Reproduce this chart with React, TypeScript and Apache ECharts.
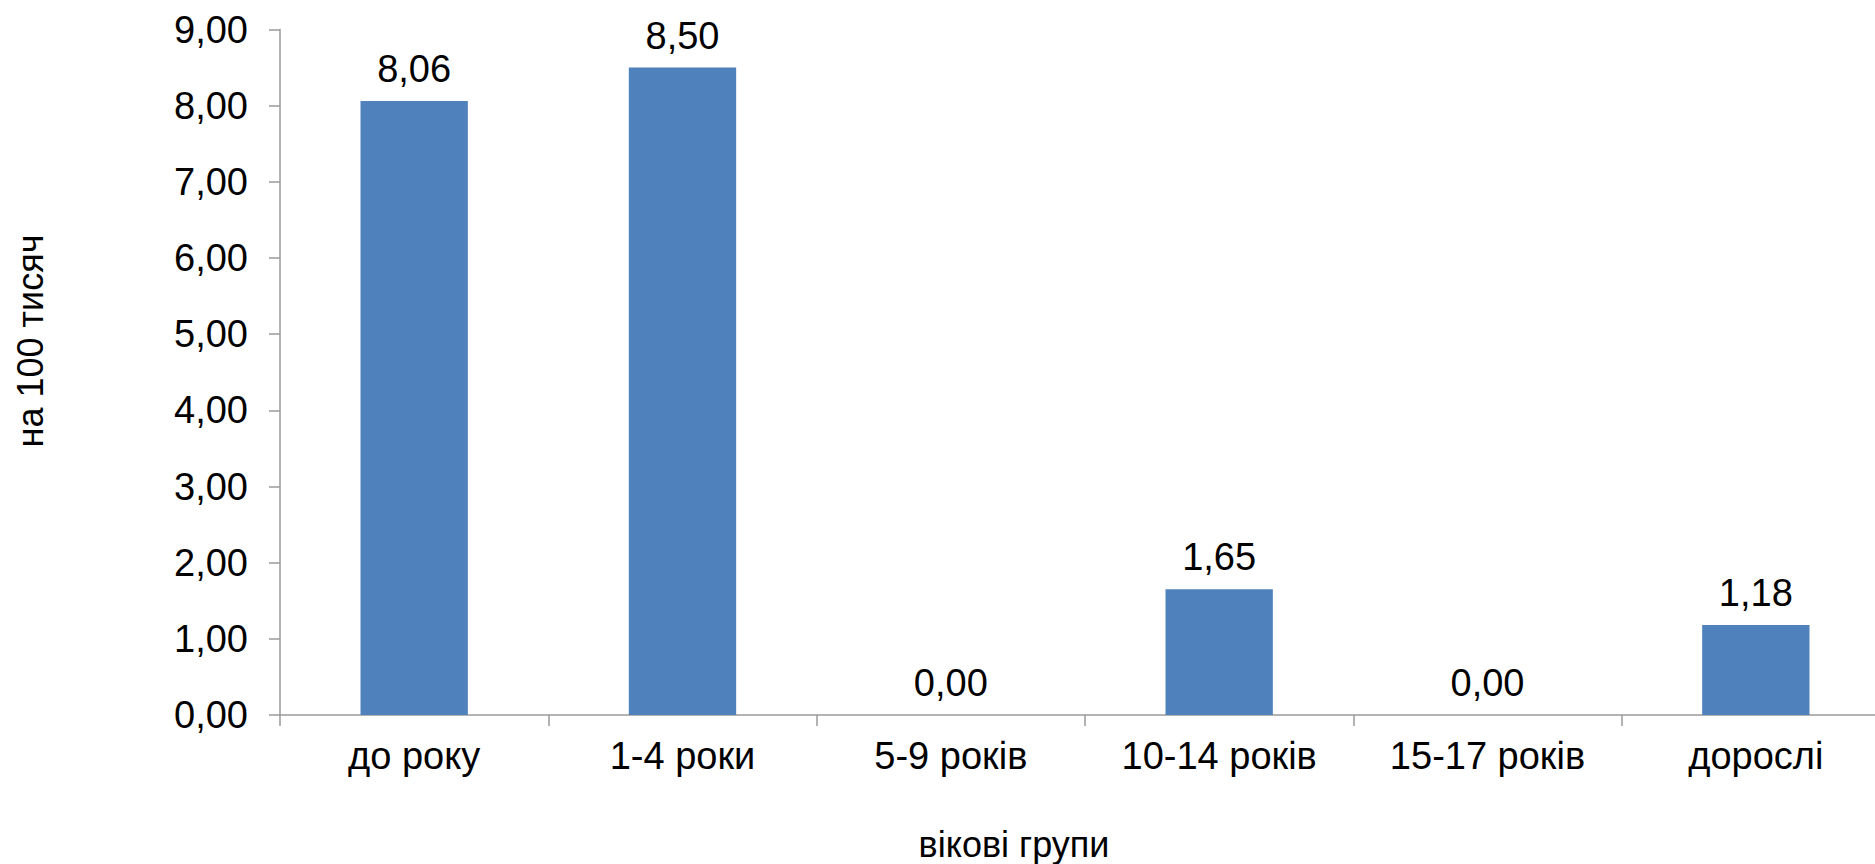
import React, { useEffect, useRef } from "react";
import * as echarts from "echarts";

const categories = ["до року", "1-4 роки", "5-9 років", "10-14 років", "15-17 років", "дорослі"];
const values = [8.06, 8.5, 0.0, 1.65, 0.0, 1.18];
const yTitle = "на 100 тисяч";
const xTitle = "вікові групи";

const FONT = "'Liberation Sans', Arial, sans-serif";

export default function App() {
  const ref = useRef<HTMLDivElement>(null);
  useEffect(() => {
    if (!ref.current) return;
    const chart = echarts.init(ref.current, null, { renderer: "svg" });
    chart.setOption({
      animation: false,
      backgroundColor: "#ffffff",
      textStyle: { fontFamily: FONT },
      grid: { left: 280, top: 29.5, width: 1610, bottom: 149, containLabel: false },
      xAxis: {
        type: "category",
        data: categories,
        axisLine: { lineStyle: { color: "#9a9a9a", width: 1.5 } },
        axisTick: { show: true, length: 11, lineStyle: { color: "#9a9a9a", width: 1.5 } },
        axisLabel: { color: "#000", fontSize: 38, fontFamily: FONT, margin: 22 },
      },
      yAxis: {
        type: "value",
        min: 0,
        max: 9,
        interval: 1,
        axisLine: { show: true, lineStyle: { color: "#9a9a9a", width: 1.5 } },
        axisTick: { show: true, length: 11, lineStyle: { color: "#9a9a9a", width: 1.5 } },
        splitLine: { show: false },
        axisLabel: {
          color: "#000",
          fontSize: 38,
          fontFamily: FONT,
          margin: 32,
          formatter: (v: number) => v.toFixed(2).replace(".", ","),
        },
      },
      series: [
        {
          type: "bar",
          data: values,
          barWidth: "40%",
          itemStyle: { color: "#4F81BD" },
          label: {
            show: true,
            position: "top",
            distance: 13,
            color: "#000",
            fontSize: 38,
            fontFamily: FONT,
            formatter: (p: any) => Number(p.value).toFixed(2).replace(".", ","),
          },
        },
      ],
      graphic: [
        {
          type: "text",
          x: 30,
          y: 341,
          rotation: Math.PI / 2,
          style: {
            text: yTitle,
            fontSize: 36,
            fontFamily: FONT,
            fill: "#000",
            align: "center",
            verticalAlign: "middle",
          },
        },
        {
          type: "text",
          x: 1014,
          y: 844,
          style: {
            text: xTitle,
            fontSize: 36,
            fontFamily: FONT,
            fill: "#000",
            align: "center",
            verticalAlign: "middle",
          },
        },
      ],
    });
    return () => chart.dispose();
  }, []);
  return (
    <div
      ref={ref}
      style={{ position: "fixed", left: 0, top: 0, width: 1900, height: 864, background: "#fff" }}
    />
  );
}
